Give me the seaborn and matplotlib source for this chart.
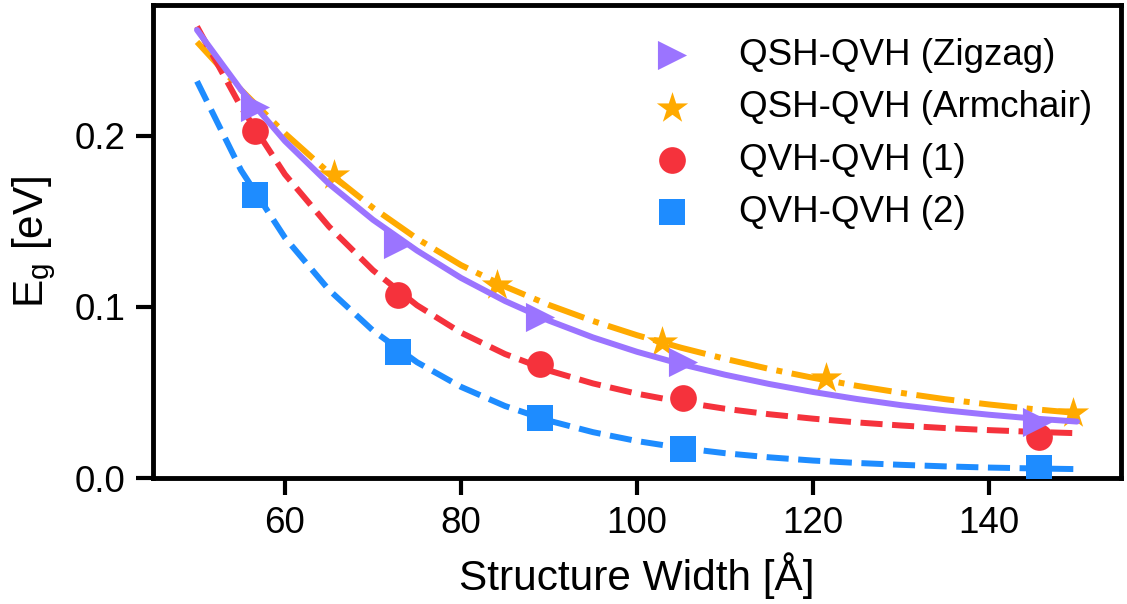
import matplotlib
matplotlib.use("Agg")
import matplotlib.pyplot as plt
import seaborn as sns

# ---- measured data points ----
zig_x = [56.6, 72.8, 89.0, 105.2, 145.5]
zig_y = [0.217, 0.137, 0.094, 0.068, 0.033]
arm_x = [65.6, 84.1, 102.8, 121.5, 149.6]
arm_y = [0.177, 0.113, 0.0795, 0.0585, 0.038]
q1_x = [56.6, 72.8, 89.0, 105.2, 145.7]
q1_y = [0.203, 0.107, 0.0667, 0.047, 0.024]
q2_x = [56.6, 72.8, 89.0, 105.2, 145.7]
q2_y = [0.1655, 0.0735, 0.035, 0.0172, 0.006]

# ---- fitted curves ----
fit_x = [50, 55, 60, 65, 70, 75, 80, 85, 90, 95, 100,
         105, 110, 115, 120, 125, 130, 135, 140, 145, 150]
fit_zig = [0.2620, 0.2270, 0.1970, 0.1720, 0.1510, 0.1330, 0.1170, 0.1035, 0.0920, 0.0822, 0.0738,
           0.0666, 0.0604, 0.0550, 0.0503, 0.0462, 0.0426, 0.0396, 0.0370, 0.0348, 0.0330]
fit_arm = [0.2550, 0.2270, 0.2015, 0.1785, 0.1580, 0.1400, 0.1245, 0.1120, 0.1012, 0.0918, 0.0835,
           0.0762, 0.0697, 0.0638, 0.0586, 0.0539, 0.0498, 0.0461, 0.0430, 0.0403, 0.0380]
fit_q1 = [0.2640, 0.2170, 0.1775, 0.1470, 0.1215, 0.1010, 0.0850, 0.0725, 0.0628, 0.0553, 0.0493,
          0.0445, 0.0405, 0.0373, 0.0347, 0.0325, 0.0307, 0.0292, 0.0280, 0.0270, 0.0262]
fit_q2 = [0.2320, 0.1800, 0.1405, 0.1100, 0.0862, 0.0677, 0.0533, 0.0421, 0.0335, 0.0268, 0.0216,
          0.0176, 0.0145, 0.0121, 0.0102, 0.0088, 0.0077, 0.0068, 0.0061, 0.0056, 0.0052]

labels = ["QSH-QVH (Zigzag)", "QSH-QVH (Armchair)", "QVH-QVH (1)", "QVH-QVH (2)"]
xticks = [60, 80, 100, 120, 140]
yticks = [0.0, 0.1, 0.2]

c_zig = "#9B74FF"
c_arm = "#FFAA00"
c_q1 = "#F5323C"
c_q2 = "#1E8CFF"

sns.set_theme(style="ticks")
plt.rcParams["font.family"] = ["Liberation Sans", "DejaVu Sans"]
plt.rcParams["mathtext.fontset"] = "custom"
plt.rcParams["mathtext.rm"] = "Liberation Sans"
plt.rcParams["mathtext.it"] = "Liberation Sans:italic"
for k in ["text.color", "axes.labelcolor", "xtick.color", "ytick.color", "axes.edgecolor"]:
    plt.rcParams[k] = "black"

fig = plt.figure(figsize=(11.27, 6.04), dpi=100)
ax = fig.add_axes([153 / 1127, 126 / 604, (1121 - 153) / 1127, (599 - 126) / 604])

lw = 4.3
sns.lineplot(x=fit_x, y=fit_arm, ax=ax, color=c_arm, linewidth=lw, linestyle="-.", legend=False)
h_arm = ax.scatter(arm_x, arm_y, marker="*", s=560, color=c_arm, linewidths=0, zorder=3)
sns.lineplot(x=fit_x, y=fit_q1, ax=ax, color=c_q1, linewidth=lw, linestyle="--", legend=False)
h_q1 = ax.scatter(q1_x, q1_y, marker="o", s=370, color=c_q1, linewidths=0, zorder=3)
sns.lineplot(x=fit_x, y=fit_q2, ax=ax, color=c_q2, linewidth=lw, linestyle="--", legend=False)
h_q2 = ax.scatter(q2_x, q2_y, marker="s", s=370, color=c_q2, linewidths=0, zorder=3)
sns.lineplot(x=fit_x, y=fit_zig, ax=ax, color=c_zig, linewidth=lw, linestyle="-", legend=False)
h_zig = ax.scatter(zig_x, zig_y, marker=">", s=440, color=c_zig, linewidths=0, zorder=3)
for ln in ax.get_lines():
    ln.set_zorder(3)

ax.set_xlim(45, 155)
ax.set_ylim(0, 0.2766)
ax.set_xticks(xticks)
ax.set_yticks(yticks)
ax.set_yticklabels([f"{v:.1f}" for v in yticks])

for sp in ax.spines.values():
    sp.set_linewidth(3.5)
    sp.set_color("black")
ax.tick_params(axis="both", which="major", length=12, width=3, labelsize=26.5,
               direction="out", color="black", labelcolor="black", pad=8)

ax.set_xlabel("Structure Width [Å]", fontsize=30.5, labelpad=8, color="black")
ax.set_ylabel(r"E$_\mathregular{g}$ [eV]", fontsize=30.5, labelpad=12, color="black")

ax.legend([h_zig, h_arm, h_q1, h_q2], labels, loc="upper right", frameon=False,
          fontsize=26.5, labelspacing=0.47, bbox_to_anchor=(1.004, 1.0))

fig.savefig("out.png", dpi=100)
